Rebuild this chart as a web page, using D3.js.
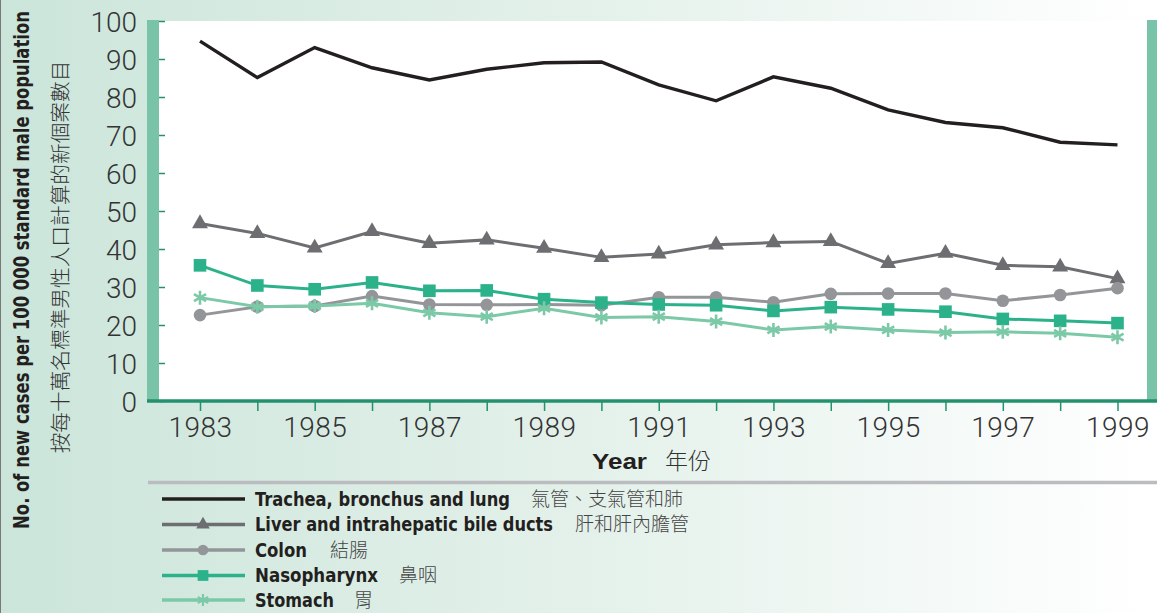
<!DOCTYPE html>
<html><head><meta charset="utf-8">
<script src="https://cdn.jsdelivr.net/npm/d3@7"></script>
<style>body{margin:0;background:#fff} svg{display:block}</style>
</head><body>
<svg id="c" width="1157" height="613"></svg>
<script>
const years = [1983,1984,1985,1986,1987,1988,1989,1990,1991,1992,1993,1994,1995,1996,1997,1998,1999];
const trachea = [94.7,85.1,93.0,87.7,84.5,87.3,89.0,89.2,83.2,79.0,85.3,82.3,76.6,73.3,71.9,68.1,67.4];
const liver   = [46.7,44.1,40.3,44.6,41.5,42.4,40.2,37.8,38.7,41.1,41.7,42.0,36.2,38.9,35.7,35.3,32.2];
const colon   = [22.6,24.8,25.0,27.6,25.4,25.3,25.4,25.2,27.3,27.3,26.0,28.2,28.3,28.3,26.4,27.9,29.7];
const naso    = [35.7,30.4,29.4,31.2,29.0,29.1,26.8,25.9,25.4,25.2,23.7,24.7,24.1,23.5,21.6,21.1,20.5];
const stomach = [27.2,24.8,25.0,25.7,23.2,22.2,24.4,22.0,22.2,20.9,18.7,19.6,18.7,18.0,18.2,17.8,16.8];
const yTicks = [0,10,20,30,40,50,60,70,80,90,100];
const xTickLabels = [1983,1985,1987,1989,1991,1993,1995,1997,1999];
const seriesNames = ["Trachea, bronchus and lung","Liver and intrahepatic bile ducts","Colon","Nasopharynx","Stomach"];
const seriesNamesZh = ["氣管、支氣管和肺","肝和肝內膽管","結腸","鼻咽","胃"];
const yTitle = "No. of new cases per 100 000 standard male population";
const yTitleZh = "按每十萬名標準男性人口計算的新個案數目";
const xTitle = "Year";
const xTitleZh = "年份";

const series = [
  {values: trachea, color: "#231f20", marker: null, width: 3.4},
  {values: liver, color: "#6d6e71", marker: "triangle", width: 3},
  {values: colon, color: "#939598", marker: "circle", width: 3},
  {values: naso, color: "#2bb28a", marker: "square", width: 3},
  {values: stomach, color: "#7cc9a8", marker: "asterisk", width: 3}
];
const drawOrder = [0,1,2,3,4];

const svg = d3.select("#c");
const W = 1157, H = 613;
const plot = {left: 159, right: 1147, top: 21, bottom: 401};

// background gradient
const defs = svg.append("defs");
const g = defs.append("linearGradient").attr("id","bg").attr("x1","0").attr("x2","1").attr("y1","0").attr("y2","0");
g.append("stop").attr("offset","0").attr("stop-color","#cbe5da");
g.append("stop").attr("offset","0.55").attr("stop-color","#e6f2ec");
g.append("stop").attr("offset","1").attr("stop-color","#ffffff");
svg.append("rect").attr("width",W).attr("height",H).attr("fill","url(#bg)");
svg.append("line").attr("x1",0.5).attr("x2",0.5).attr("y1",0).attr("y2",H).attr("stroke","#7a7a7a").attr("stroke-width",1);

// plot area
svg.append("rect").attr("x",plot.left).attr("y",plot.top).attr("width",plot.right-plot.left).attr("height",plot.bottom-plot.top).attr("fill","#fff");
svg.append("rect").attr("x",147).attr("y",20).attr("width",12).attr("height",381).attr("fill","#79c3a8");
svg.append("rect").attr("x",1147).attr("y",20).attr("width",10).attr("height",381).attr("fill","#79c3a8");

const x = d3.scaleLinear().domain([1983,1999]).range([200,1117.5]);
const y = d3.scaleLinear().domain([0,100]).range([401,21]);

// y axis ticks (inside) and labels
const yTickAxis = d3.axisRight(y).tickValues(yTicks).tickSize(6).tickFormat("");
const yt = svg.append("g").attr("transform",`translate(${plot.left},0)`).call(yTickAxis);
yt.select(".domain").remove();
yt.selectAll("line").attr("stroke","#2a8d6c").attr("stroke-width",1.5);

const yLabAxis = d3.axisLeft(y).tickValues(yTicks).tickSize(0).tickPadding(10);
const yl = svg.append("g").attr("transform","translate(147,0)").call(yLabAxis);
yl.select(".domain").remove();
yl.selectAll("text").attr("font-family","Roboto, sans-serif").attr("font-weight",300)
  .attr("font-size",28).attr("fill","#333").attr("dy","0.36em");

// x axis
svg.append("line").attr("x1",147).attr("x2",W).attr("y1",401).attr("y2",401).attr("stroke","#23906e").attr("stroke-width",3.5);
const xAxis = d3.axisBottom(x).tickValues(years).tickSize(10).tickPadding(6)
  .tickFormat(d => xTickLabels.includes(d) ? String(d) : "");
const xa = svg.append("g").attr("transform","translate(0,401)").call(xAxis);
xa.select(".domain").remove();
xa.selectAll("line").attr("stroke","#23906e").attr("stroke-width",1.5);
xa.selectAll("text").attr("font-family","Roboto, sans-serif").attr("font-weight",300)
  .attr("font-size",28).attr("fill","#333").attr("letter-spacing","0.5px");

// lines
const lineGen = d3.line().x((d,i)=>x(years[i])).y(d=>y(d));
function drawMarker(sel, type, color, cx, cy, scale) {
  const s = scale || 1;
  if (type === "triangle") {
    sel.append("path").attr("d", d3.symbol(d3.symbolTriangle, 110*s*s)()).attr("transform",`translate(${cx},${cy})`).attr("fill",color);
  } else if (type === "circle") {
    sel.append("circle").attr("cx",cx).attr("cy",cy).attr("r",6.3*s).attr("fill",color);
  } else if (type === "square") {
    sel.append("rect").attr("x",cx-6.3*s).attr("y",cy-6.3*s).attr("width",12.6*s).attr("height",12.6*s).attr("fill",color);
  } else if (type === "asterisk") {
    const r = 7*s;
    const p = d3.path();
    for (const a of [90, 30, -30]) {
      const rad = a*Math.PI/180;
      p.moveTo(cx - r*Math.cos(rad), cy - r*Math.sin(rad));
      p.lineTo(cx + r*Math.cos(rad), cy + r*Math.sin(rad));
    }
    sel.append("path").attr("d",p.toString()).attr("stroke",color).attr("stroke-width",2.6*s).attr("fill","none");
  }
}
const lg = svg.append("g");
drawOrder.forEach(k => {
  const s = series[k];
  const gg = lg.append("g");
  gg.append("path").datum(s.values).attr("d",lineGen).attr("fill","none").attr("stroke",s.color).attr("stroke-width",s.width).attr("stroke-linejoin","miter");
  if (s.marker) s.values.forEach((v,i)=> drawMarker(gg, s.marker, s.color, x(years[i]), y(v)));
});

// y titles (horizontally compressed via real scale transform so the bbox is true)
const yt1 = svg.append("text").attr("text-anchor","middle")
  .attr("font-family","'DejaVu Sans',sans-serif").attr("font-weight","bold")
  .attr("font-size",21).attr("fill","#231f20").text(yTitle);
const l1 = yt1.node().getComputedTextLength();
yt1.attr("transform",`translate(29,270) rotate(-90) scale(${518/l1},1)`);
const yt2 = svg.append("text").attr("text-anchor","middle")
  .attr("font-family","'Noto Sans CJK TC',sans-serif").attr("font-weight",300)
  .attr("font-size",20.5).attr("fill","#333").text(yTitleZh);
const l2 = yt2.node().getComputedTextLength();
yt2.attr("transform",`translate(68,257) rotate(-90) scale(${393/l2},1)`);

// x title
svg.append("text").attr("x",592).attr("y",469).attr("font-family","'Liberation Sans',Arial,sans-serif").attr("font-weight","bold")
  .attr("font-size",22).attr("fill","#231f20").attr("textLength",55).attr("lengthAdjust","spacingAndGlyphs").text(xTitle);
svg.append("text").attr("x",665).attr("y",469).attr("font-family","'Noto Sans CJK TC',sans-serif").attr("font-weight",300)
  .attr("font-size",23).attr("fill","#333").text(xTitleZh);

// legend
svg.append("line").attr("x1",148).attr("x2",W).attr("y1",482.5).attr("y2",482.5).attr("stroke","#bbbcbf").attr("stroke-width",3.5);
const rowY = [499,524.5,550,575.5,600];
const enWidths = [255,298,52,123,79];
const zhX = [531,575,330,399,354];
const leg = svg.append("g");
series.forEach((s,i) => {
  const ry = rowY[i];
  leg.append("line").attr("x1",162).attr("x2",245).attr("y1",ry).attr("y2",ry).attr("stroke",s.color).attr("stroke-width",3.5);
  if (s.marker) drawMarker(leg, s.marker, s.color, 203, ry, 0.85);
  leg.append("text").attr("x",255).attr("y",ry+6.5).attr("font-family","'Liberation Sans Narrow','DejaVu Sans Condensed','Open Sans',sans-serif")
    .attr("font-weight","bold").attr("font-size",19).attr("fill","#231f20")
    .attr("textLength",enWidths[i]).attr("lengthAdjust","spacingAndGlyphs").text(seriesNames[i]);
  leg.append("text").attr("x",zhX[i]).attr("y",ry+6.5).attr("font-family","'Noto Sans CJK TC',sans-serif").attr("font-weight",300)
    .attr("font-size",19).attr("fill","#444").text(seriesNamesZh[i]);
});
</script>
</body></html>
